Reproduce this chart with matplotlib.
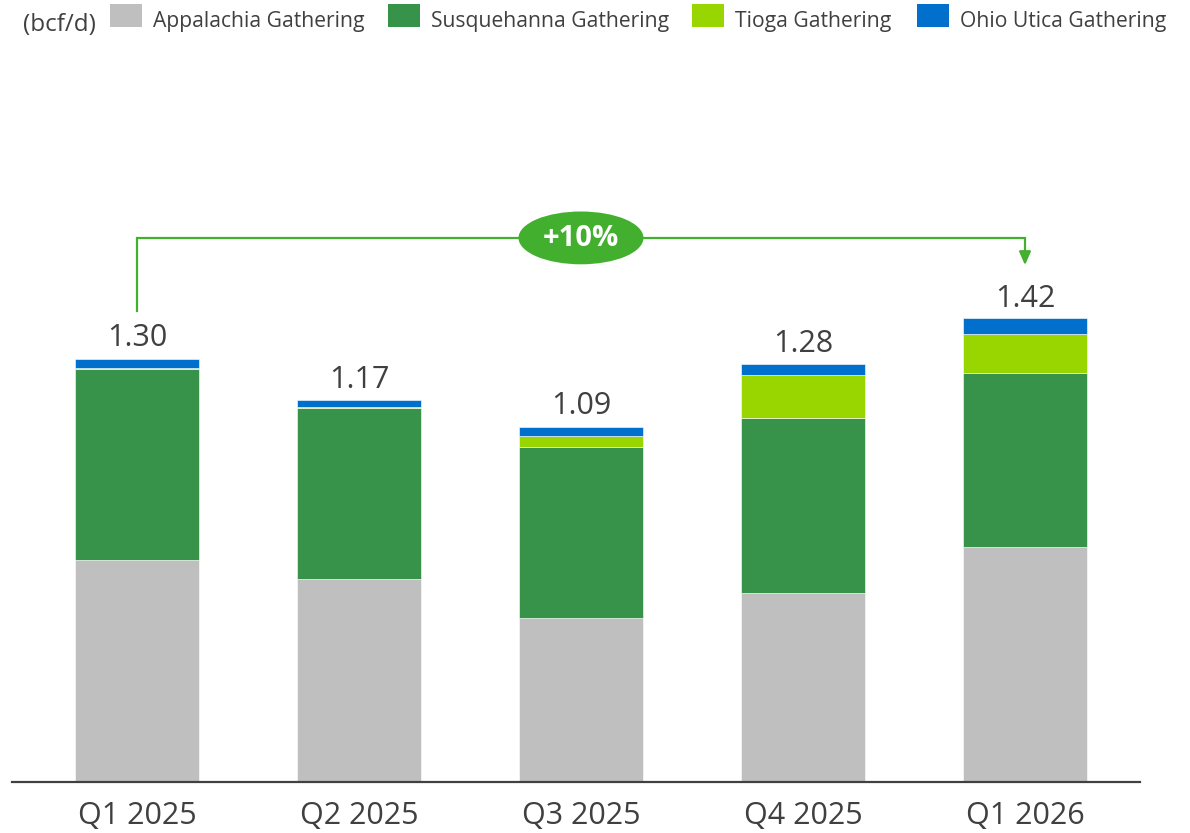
import matplotlib
matplotlib.use("Agg")
import matplotlib.pyplot as plt
from matplotlib.patches import Ellipse, Rectangle
import numpy as np

plt.rcParams['font.family'] = ['Open Sans', 'DejaVu Sans']

categories = ["Q1 2025", "Q2 2025", "Q3 2025", "Q4 2025", "Q1 2026"]
series_names = ["Appalachia Gathering", "Susquehanna Gathering", "Tioga Gathering", "Ohio Utica Gathering"]
appalachia = [0.681, 0.623, 0.503, 0.580, 0.721]
susquehanna = [0.586, 0.523, 0.525, 0.538, 0.535]
tioga = [0.003, 0.003, 0.033, 0.129, 0.119]
ohio_utica = [0.028, 0.024, 0.029, 0.036, 0.047]
totals = [1.30, 1.17, 1.09, 1.28, 1.42]
total_labels = ["1.30", "1.17", "1.09", "1.28", "1.42"]
growth_label = "+10%"
unit_label = "(bcf/d)"

colors = ["#BFBFBF", "#37934A", "#99D600", "#0070CC"]
accent = "#43AF2E"
text_col = "#404040"

W, H = 1190, 833
fig = plt.figure(figsize=(W / 100, H / 100), dpi=100)
ax = fig.add_axes([12 / W, 1 - 782 / H, (1140 - 12) / W, 570.5 / H])

x = np.arange(len(categories))
bottom = np.zeros(len(categories))
for vals, c in zip([appalachia, susquehanna, tioga, ohio_utica], colors):
    ax.bar(x, vals, width=0.555, bottom=bottom, color=c, edgecolor="white", linewidth=0.4)
    bottom += np.array(vals)

for xi, t, lab in zip(x, totals, total_labels):
    ax.annotate(lab, (xi, t), xytext=(0, 4), textcoords="offset points",
                ha="center", va="bottom", fontsize=22, color=text_col)

ax.set_xlim(-0.563, 4.518)
ax.set_ylim(0, 1.75)
ax.set_yticks([])
ax.set_xticks(x)
ax.set_xticklabels(categories, fontsize=22, color=text_col)
ax.tick_params(axis="x", length=0, pad=14)
for s in ["top", "right", "left"]:
    ax.spines[s].set_visible(False)
ax.spines["bottom"].set_color(text_col)
ax.spines["bottom"].set_linewidth(1.6)

# growth bracket
y_top = 1.669
ax.plot([x[0], x[0], x[-1], x[-1]], [1.445, y_top, y_top, 1.62], color=accent, lw=1.6,
        solid_joinstyle="miter", clip_on=False)
ax.annotate("", xy=(x[-1], 1.577), xytext=(x[-1], 1.625),
            arrowprops=dict(arrowstyle="-|>,head_width=0.35,head_length=0.8", color=accent, lw=1.6),
            annotation_clip=False)
ell = Ellipse((2, y_top), width=0.563, height=0.162, facecolor=accent, edgecolor="none",
              clip_on=False, zorder=5)
ax.add_patch(ell)
ax.text(2, y_top - 0.003, growth_label, ha="center", va="center", fontsize=21, fontweight="bold",
        color="white", zorder=6)

# legend
fig.text(23 / W, 1 - 31 / H, unit_label, ha="left", va="baseline", fontsize=17.5, color=text_col)
sq_x = [110, 388, 692, 917]
for sx, name, c in zip(sq_x, series_names, colors):
    fig.patches.append(Rectangle((sx / W, 1 - 27 / H), 32 / W, 23 / H, transform=fig.transFigure,
                                 facecolor=c, edgecolor="none"))
    fig.text((sx + 43) / W, 1 - 27 / H, name, ha="left", va="baseline", fontsize=15.2, color=text_col)

fig.savefig("out.png", dpi=100)
